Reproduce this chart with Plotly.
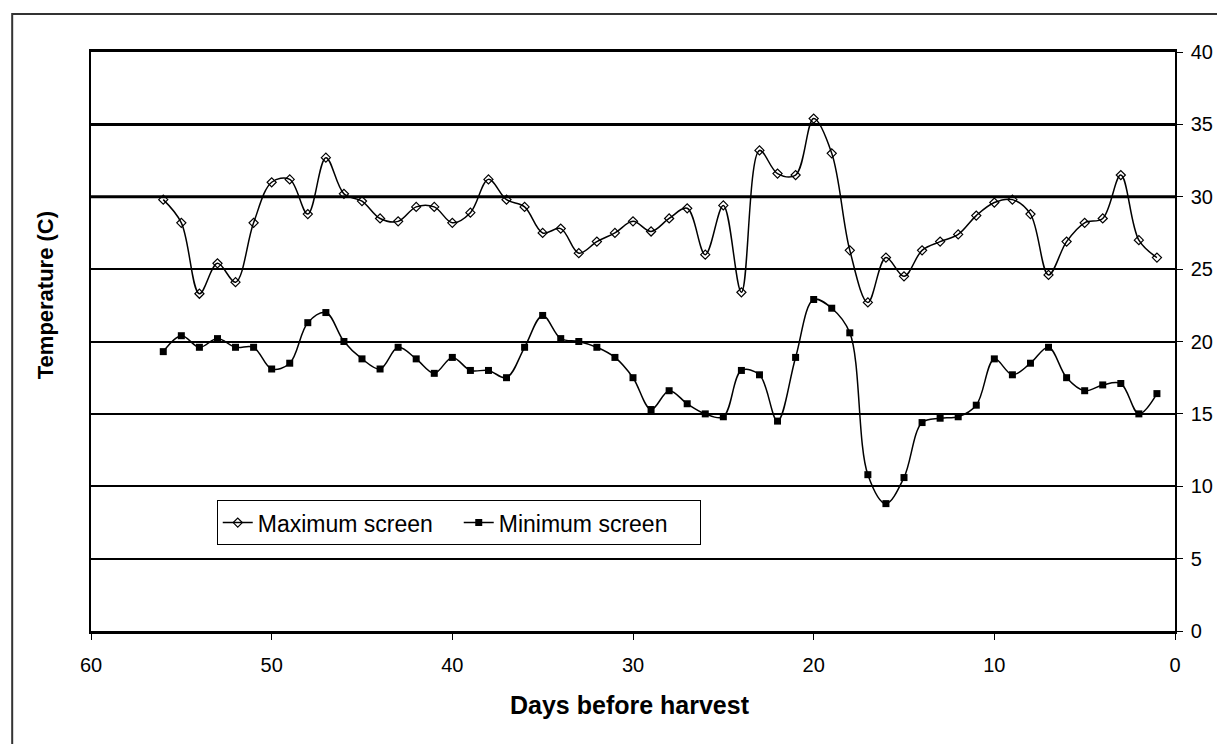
import plotly.graph_objects as go

days = list(range(56, 0, -1))

max_screen = [29.8, 28.2, 23.3, 25.4, 24.1, 28.2, 31.0, 31.2, 28.8, 32.7,
              30.2, 29.7, 28.5, 28.3, 29.3, 29.3, 28.2, 28.9, 31.2, 29.8,
              29.3, 27.5, 27.8, 26.1, 26.9, 27.5, 28.3, 27.6, 28.5, 29.2,
              26.0, 29.4, 23.4, 33.2, 31.6, 31.5, 35.4, 33.0, 26.3, 22.7,
              25.8, 24.5, 26.3, 26.9, 27.4, 28.7, 29.6, 29.8, 28.8, 24.6,
              26.9, 28.2, 28.5, 31.5, 27.0, 25.8]

min_screen = [19.3, 20.4, 19.6, 20.2, 19.6, 19.6, 18.1, 18.5, 21.3, 22.0,
              20.0, 18.8, 18.1, 19.6, 18.8, 17.8, 18.9, 18.0, 18.0, 17.5,
              19.6, 21.8, 20.2, 20.0, 19.6, 18.9, 17.5, 15.3, 16.6, 15.7,
              15.0, 14.8, 18.0, 17.7, 14.5, 18.9, 22.9, 22.3, 20.6, 10.8,
              8.8, 10.6, 14.4, 14.7, 14.8, 15.6, 18.8, 17.7, 18.5, 19.6,
              17.5, 16.6, 17.0, 17.1, 15.0, 16.4]

x_ticks = [60, 50, 40, 30, 20, 10, 0]
y_ticks = [0, 5, 10, 15, 20, 25, 30, 35, 40]
thick_grid = [30, 35]

FONT = "Liberation Sans Narrow, Arial Narrow, Liberation Sans, Arial, sans-serif"

fig = go.Figure()
fig.add_trace(go.Scatter(
    x=days, y=max_screen, name="Maximum screen", mode="lines+markers",
    line=dict(color="black", width=1.5, shape="spline", smoothing=1.0),
    marker=dict(symbol="diamond-open", size=7, color="black", line=dict(width=1.2))))
fig.add_trace(go.Scatter(
    x=days, y=min_screen, name="Minimum screen", mode="lines+markers",
    line=dict(color="black", width=1.5, shape="spline", smoothing=1.0),
    marker=dict(symbol="square", size=7, color="black")))

for g in thick_grid:
    fig.add_shape(type="line", xref="paper", x0=0, x1=1, yref="y", y0=g, y1=g,
                  line=dict(color="black", width=3), layer="below")

# outer chart frame (partially cropped in the reference)
fig.add_shape(type="rect", xref="paper", yref="paper",
              x0=-0.0727, x1=1.2, y0=-0.4, y1=1.0656,
              line=dict(color="#333", width=2))

fig.add_annotation(text="<b>Temperature (C)</b>", xref="paper", yref="paper",
                   x=-0.0424, y=0.58, textangle=-90, showarrow=False,
                   xanchor="center", yanchor="middle",
                   font=dict(family=FONT, size=22, color="black"))
fig.add_annotation(text="<b>Days before harvest</b>", xref="paper", yref="paper",
                   x=0.497, y=-0.128, showarrow=False,
                   xanchor="center", yanchor="middle",
                   font=dict(family=FONT, size=25, color="black"))

fig.update_layout(
    width=1217, height=736,
    margin=dict(l=83, r=48, t=44, b=113),
    paper_bgcolor="white", plot_bgcolor="white",
    font=dict(family=FONT, size=20, color="black"),
    showlegend=True,
    legend=dict(orientation="h", x=0.116, y=0.226, xanchor="left", yanchor="top",
                bordercolor="black", borderwidth=1, bgcolor="white",
                font=dict(family=FONT, size=23), entrywidth=196,
                entrywidthmode="pixels"),
    xaxis=dict(range=[60, 0], tickvals=x_ticks, showgrid=False, zeroline=False,
               showline=True, linecolor="black", linewidth=3, mirror=True,
               ticks="outside", ticklen=6, tickcolor="black", tickwidth=1,
               tickfont=dict(size=20), ticklabelstandoff=8),
    yaxis=dict(range=[0, 40], tickvals=y_ticks, side="right", showgrid=True,
               gridcolor="black", gridwidth=1.5, zeroline=False,
               showline=True, linecolor="black", linewidth=1.5, mirror=True,
               ticks="outside", ticklen=6, tickcolor="black",
               tickfont=dict(size=20), ticklabelstandoff=4),
)

fig.write_html("out.html")
